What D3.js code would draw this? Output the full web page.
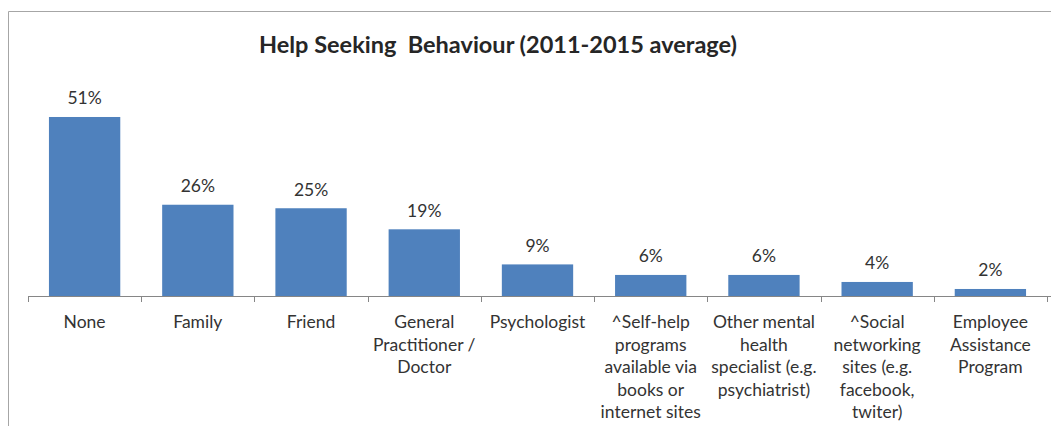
<!DOCTYPE html>
<html><head><meta charset="utf-8">
<script src="https://cdn.jsdelivr.net/npm/d3@7"></script>
<style>html,body{margin:0;padding:0;background:#fff;}svg{display:block;}</style>
</head><body>
<script>
const title = "Help Seeking  Behaviour (2011-2015 average)";
const categories = ["None","Family","Friend","General\nPractitioner /\nDoctor","Psychologist","^Self-help\nprograms\navailable via\nbooks or\ninternet sites","Other mental\nhealth\nspecialist (e.g.\npsychiatrist)","^Social\nnetworking\nsites (e.g.\nfacebook,\ntwiter)","Employee\nAssistance\nProgram"];
const values = [51,26,25,19,9,6,6,4,2];

const W = 1051, H = 426;
const svg = d3.select("body").append("svg").attr("width", W).attr("height", H);
const font = "Lato, 'Open Sans', sans-serif";

// frame
svg.append("path").attr("d", `M8.5,${H} L8.5,11.5 L${W},11.5`).attr("fill","none").attr("stroke","#a6a6a6").attr("stroke-width",1);

svg.append("text").attr("x", 498).attr("y", 53).attr("text-anchor","middle")
  .attr("font-family", font).attr("font-weight","bold").attr("font-size", 23.5)
  .attr("fill","#262626").style("white-space","pre").text(title);

const x = d3.scaleBand().domain(categories).range([28, 1047]).paddingInner(0.37).paddingOuter(0.185);
const y = d3.scaleLinear().domain([0, 60]).range([296, 296 - 60*3.51]);

const g = svg.append("g");
g.selectAll("rect.bar").data(values).join("rect").attr("class","bar")
  .attr("x", (d,i)=>x(categories[i])).attr("width", x.bandwidth())
  .attr("y", d=>y(d)).attr("height", d=>y(0)-y(d)).attr("fill","#4f81bd");

g.selectAll("text.val").data(values).join("text").attr("class","val")
  .attr("x",(d,i)=>x(categories[i])+x.bandwidth()/2).attr("y", d=>y(d)-12.5)
  .attr("text-anchor","middle").attr("font-family",font).attr("font-size",17.5).attr("fill","#333")
  .text(d=>d+"%");

// axis
const axisG = svg.append("g");
axisG.append("line").attr("x1",28).attr("x2",W).attr("y1",296.5).attr("y2",296.5).attr("stroke","#868686");
const ticks = d3.range(categories.length+1).map(i=>28 + i*(1047-28)/categories.length);
axisG.selectAll("line.t").data(ticks).join("line").attr("class","t")
  .attr("x1",d=>Math.round(d)+0.5).attr("x2",d=>Math.round(d)+0.5).attr("y1",296).attr("y2",302).attr("stroke","#868686");

const lab = svg.append("g");
categories.forEach((c,i)=>{
  const t = lab.append("text").attr("x", x(c)+x.bandwidth()/2).attr("y",328)
    .attr("text-anchor","middle").attr("font-family",font).attr("font-size",17.5).attr("fill","#333");
  c.split("\n").forEach((ln,j)=>{
    t.append("tspan").attr("x", x(c)+x.bandwidth()/2).attr("dy", j===0?0:22.5).text(ln);
  });
});
</script>
</body></html>
